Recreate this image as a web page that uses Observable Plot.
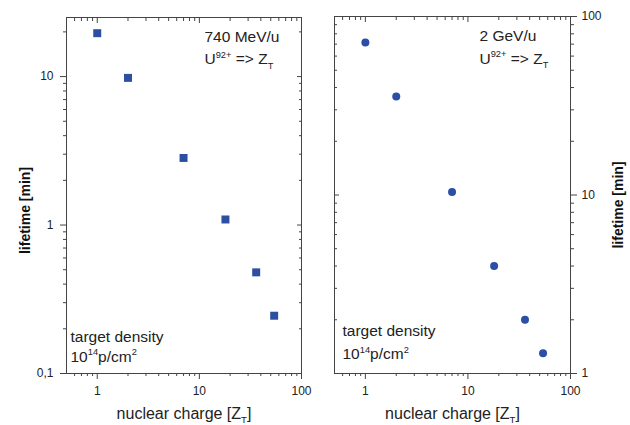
<!DOCTYPE html>
<html><head><meta charset="utf-8">
<script src="https://cdn.jsdelivr.net/npm/d3@7"></script>
<script src="https://cdn.jsdelivr.net/npm/@observablehq/plot@0.6"></script>
<style>
body{margin:0;background:#fff}
#wrap{position:relative;width:630px;height:425px;background:#fff}
#wrap svg{position:absolute;top:0}
</style>
</head><body><div id="wrap"></div>
<script>
// ---- data ----
const charges = [1, 2, 7, 18, 36, 54];
const lifetime740 = [19.6, 9.8, 2.83, 1.09, 0.48, 0.245];
const lifetime2G = [71.5, 35.6, 10.4, 4.0, 2.0, 1.3];
const xMajor = [1, 10, 100];
const xMinor = [0.6, 0.7, 0.8, 0.9, 2, 3, 4, 5, 6, 7, 8, 9, 20, 30, 40, 50, 60, 70, 80, 90];
const yMajorLeft = [0.1, 1, 10];
const yMinorLeft = [0.2, 0.3, 0.4, 0.5, 0.6, 0.7, 0.8, 0.9, 2, 3, 4, 5, 6, 7, 8, 9, 20];
const yMajorRight = [1, 10, 100];
const yMinorRight = [2, 3, 4, 5, 6, 7, 8, 9, 20, 30, 40, 50, 60, 70, 80, 90];
const lines740 = ["740 MeV/u", "U^{92+} => Z_{T}"];
const lines2G = ["2 GeV/u", "U^{92+} => Z_{T}"];
const densityLines = ["target density", "10^{14}p/cm^{2}"];
const xLabel = "nuclear charge [Z_{T}]";
const yLabel = "lifetime [min]";

const data740 = charges.map((z, i) => ({z, t: lifetime740[i]}));
const data2G = charges.map((z, i) => ({z, t: lifetime2G[i]}));

const FONT = "'Liberation Sans', Arial, Helvetica, sans-serif";
const INK = "#222";
const AX = "#444";
const comma = d => String(d).replace(".", ",");

function txt(s, o) {
  return Plot.text([s], {text: d => d, fill: INK, fontSize: 15.5, lineAnchor: "bottom", ...o});
}

function axesX() {
  return [
    Plot.axisX(xMajor, {anchor: "bottom", tickSize: 6, tickPadding: 7, tickFormat: d => String(d), label: null, stroke: AX, fill: INK, fontSize: 12}),
    Plot.axisX(xMinor, {anchor: "bottom", tickSize: 3, fill: "none", label: null, stroke: AX}),
    Plot.axisX(xMajor, {anchor: "top", tickSize: -5, fill: "none", label: null, stroke: AX}),
    Plot.axisX(xMinor, {anchor: "top", tickSize: -3, fill: "none", label: null, stroke: AX})
  ];
}

const left = Plot.plot({
  width: 315, height: 425,
  marginLeft: 66, marginRight: 14, marginTop: 17, marginBottom: 52,
  style: {fontFamily: FONT, background: "transparent", overflow: "visible"},
  x: {type: "log", domain: [0.5, 100]},
  y: {type: "log", domain: [0.1, 25]},
  marks: [
    Plot.frame({stroke: AX}),
    ...axesX(),
    Plot.axisY(yMajorLeft, {anchor: "left", tickSize: 6, tickPadding: 7, tickFormat: comma, label: null, stroke: AX, fill: INK, fontSize: 12}),
    Plot.axisY(yMinorLeft, {anchor: "left", tickSize: 3, fill: "none", label: null, stroke: AX}),
    Plot.axisY(yMajorLeft, {anchor: "right", tickSize: -5, fill: "none", label: null, stroke: AX}),
    Plot.axisY(yMinorLeft, {anchor: "right", tickSize: -3, fill: "none", label: null, stroke: AX}),
    Plot.dot(data740, {x: "z", y: "t", symbol: "square", r: 4.5, fill: "#2d4fa1", stroke: null}),
    txt(lines740[0], {frameAnchor: "top-right", textAnchor: "start", dx: -97, dy: 24}),
    txt(lines740[1], {frameAnchor: "top-right", textAnchor: "start", dx: -97, dy: 46.5}),
    txt(densityLines[0], {frameAnchor: "bottom-left", textAnchor: "start", dx: 4, dy: -32}),
    txt(densityLines[1], {frameAnchor: "bottom-left", textAnchor: "start", dx: 4, dy: -12}),
    txt(xLabel, {frameAnchor: "bottom", textAnchor: "middle", dy: 45, fontSize: 16}),
    txt(yLabel, {frameAnchor: "left", textAnchor: "middle", lineAnchor: "middle", rotate: -90, dx: -41, dy: 15, fontSize: 14, fontWeight: "bold", fill: "#111"})
  ]
});

const right = Plot.plot({
  width: 315, height: 425,
  marginLeft: 19, marginRight: 60, marginTop: 16, marginBottom: 52,
  style: {fontFamily: FONT, background: "transparent", overflow: "visible"},
  x: {type: "log", domain: [0.5, 100]},
  y: {type: "log", domain: [1, 100]},
  marks: [
    Plot.frame({stroke: AX}),
    ...axesX(),
    Plot.axisY(yMajorRight, {anchor: "right", tickSize: 6, tickPadding: 5, tickFormat: d => String(d), label: null, stroke: AX, fill: INK, fontSize: 12}),
    Plot.axisY(yMinorRight, {anchor: "right", tickSize: 3, fill: "none", label: null, stroke: AX}),
    Plot.axisY(yMajorRight, {anchor: "left", tickSize: -5, fill: "none", label: null, stroke: AX}),
    Plot.axisY(yMinorRight, {anchor: "left", tickSize: -3, fill: "none", label: null, stroke: AX}),
    Plot.dot(data2G, {x: "z", y: "t", symbol: "circle", r: 4, fill: "#2b4fa6", stroke: null}),
    txt(lines2G[0], {frameAnchor: "top-right", textAnchor: "start", dx: -91, dy: 24}),
    txt(lines2G[1], {frameAnchor: "top-right", textAnchor: "start", dx: -91, dy: 47}),
    txt(densityLines[0], {frameAnchor: "bottom-left", textAnchor: "start", dx: 8, dy: -38}),
    txt(densityLines[1], {frameAnchor: "bottom-left", textAnchor: "start", dx: 8, dy: -14.5}),
    txt(xLabel, {frameAnchor: "bottom", textAnchor: "middle", dy: 45, fontSize: 16}),
    txt(yLabel, {frameAnchor: "right", textAnchor: "middle", lineAnchor: "middle", rotate: -90, dx: 48, dy: 10, fontSize: 14, fontWeight: "bold", fill: "#111"})
  ]
});

const wrap = document.getElementById("wrap");
left.style.left = "0px";
right.style.left = "315px";
wrap.appendChild(left);
wrap.appendChild(right);

// turn ^{..} and _{..} into raised / lowered tspans
function richify(svg) {
  d3.select(svg).selectAll("text").each(function() {
    const t = this.textContent;
    if (!/[\^_]\{/.test(t)) return;
    const base = parseFloat(getComputedStyle(this).fontSize) || 15;
    const parts = [];
    const re = /([\^_])\{([^}]*)\}/g;
    let last = 0, m;
    while ((m = re.exec(t))) {
      if (m.index > last) parts.push({s: t.slice(last, m.index), k: 0});
      parts.push({s: m[2], k: m[1] === "^" ? 1 : -1});
      last = re.lastIndex;
    }
    if (last < t.length) parts.push({s: t.slice(last), k: 0});
    const sel = d3.select(this);
    sel.text(null);
    let cur = 0;
    for (const p of parts) {
      const target = p.k === 1 ? -0.42 * base : p.k === -1 ? 0.3 * base : 0;
      const ts = sel.append("tspan").text(p.s);
      if (target !== cur) ts.attr("dy", target - cur);
      if (p.k !== 0) ts.attr("font-size", 0.6 * base);
      cur = target;
    }
  });
}
richify(left);
richify(right);
</script>
</body></html>
